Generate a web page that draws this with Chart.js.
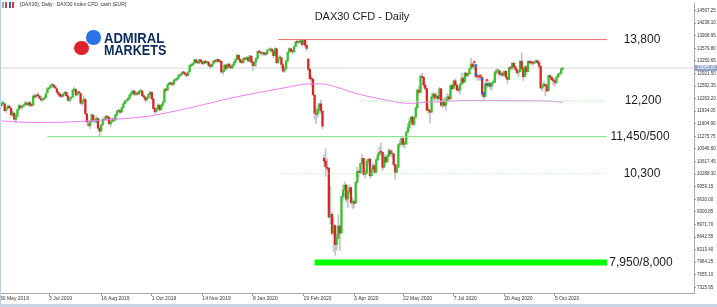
<!DOCTYPE html>
<html>
<head>
<meta charset="utf-8">
<script src="https://cdn.jsdelivr.net/npm/chart.js@4.4.1/dist/chart.umd.min.js"></script>
<style>
  html, body { margin: 0; padding: 0; background: #fff; }
  #wrap { position: relative; width: 717px; height: 307px; overflow: hidden; }
  #c { position: absolute; left: 0; top: 0; }
  #edgeL { position: absolute; left: 0; top: 0; width: 1px; height: 307px; background: #b9cde6; }
  #edgeB { position: absolute; left: 0; top: 304px; width: 717px; height: 3px; background: #c9d6e8; }
  #hdr { position: absolute; left: 20px; top: 1px; font: 5px "Liberation Sans", Arial, sans-serif; color: #333; white-space: pre; }
  .ico { position: absolute; top: 2px; width: 5px; height: 6px; }
  #logo .dot { position: absolute; width: 14.5px; height: 14.5px; border-radius: 50%; }
  #logo .txt { position: absolute; left: 104px; font: bold 15px "Liberation Sans", Arial, sans-serif; color: #0b2b5c; transform-origin: 0 0; letter-spacing: 0; line-height: 1; }
</style>
</head>
<body>
<div id="wrap">
  <canvas id="c" width="717" height="307"></canvas>
  <div id="edgeL"></div>
  <div id="edgeB"></div>
  <div class="ico" style="left:2px;background:linear-gradient(90deg,#9aa 0 40%,#fff 40% 60%,#c44 60%)"></div>
  <div class="ico" style="left:9px;background:linear-gradient(90deg,#2c5fd0 0 45%,#fff 45% 55%,#d33 55%)"></div>
  <div id="hdr">[DAX30], Daily:  DAX30 Index CFD, cash (EUR)</div>
  <div id="logo">
    <div class="dot" style="left:86px;top:30px;background:#2a74e8"></div>
    <div class="dot" style="left:74px;top:40.5px;background:#e0222d"></div>
    <div class="txt" style="top:29.5px;transform:scaleX(0.87)">ADMIRAL</div>
    <div class="txt" style="top:42px;transform:scaleX(0.84)">MARKETS</div>
  </div>
</div>
<script>
// ===============================
// DATOS: velas diarias DAX30 CFD (may 2019 - oct 2020)
// ===============================
const opens = [
  12080,12140,12130,11960,12020,12060,12010,11840,11880,11720,
  11800,11980,12070,12040,12070,12110,12140,12100,12160,12100,
  12100,12340,12320,12350,12330,12260,12230,12250,12290,12420,
  12520,12550,12620,12620,12560,12520,12430,12380,12340,12330,
  12390,12430,12340,12210,12270,12310,12480,12500,12370,12420,
  12400,12130,12190,12240,11860,11600,11560,11660,11830,11680,
  11660,11740,11490,11420,11580,11710,11720,11790,11770,11600,
  11660,11720,11710,11840,11940,11950,11920,12030,12130,12200,
  12230,12270,12360,12410,12460,12380,12390,12390,12460,12460,
  12340,12300,12240,12290,12380,12430,12260,12010,11930,12010,
  12090,11980,12090,12170,12500,12490,12630,12670,12650,12640,
  12750,12760,12800,12870,12890,12940,12940,12910,12870,12970,
  13130,13150,13190,13280,13230,13200,13280,13230,13180,13240,
  13210,13220,13140,13100,13170,13250,13230,13290,13250,13240,
  12960,12990,13140,13060,13170,13100,13070,13140,13220,13290,
  13400,13290,13220,13210,13320,13300,13340,13250,13380,13220,
  13130,13230,13320,13490,13480,13450,13460,13430,13430,13530,
  13550,13560,13510,13390,13570,13210,13330,13340,13150,12990,
  13050,13250,13480,13570,13510,13490,13630,13750,13740,13740,
  13780,13680,13790,13660,13300,13030,12790,12770,12360,11880,
  11860,11990,12130,11940,10700,10630,10470,10450,9170,9240,
  8740,8940,8440,8610,8930,8750,9700,9880,10000,9640,
  9820,9940,9550,9570,9530,10070,10360,10330,10570,10700,
  10280,10300,10630,10680,10250,10420,10510,10340,10660,10800,
  10870,10860,10470,10730,10610,10760,10900,10820,10820,10540,
  10340,10470,11060,11080,11220,11070,11080,11390,11510,11660,
  11780,11590,11770,12020,12490,12430,12850,12820,12620,12530,
  11970,11950,11910,12320,12380,12280,12330,12260,12520,12100,
  12180,12090,12230,12310,12260,12610,12530,12730,12620,12500,
  12490,12640,12800,12700,12930,12870,12920,13050,13170,13100,
  13100,12840,12840,12830,12820,12380,12320,12650,12600,12660,
  12590,12680,12690,12950,12990,12990,12900,12920,12880,12980,
  12830,12770,13070,13060,13190,13100,13030,12950,12970,13240,
  13060,12840,13100,12970,13240,13210,13200,13190,13220,13260,
  13210,13110,12540,12600,12640,12600,12470,12870,12820,12760,
  12730,12690,12830,12910,12930,13040
];
const highs = [
  12190,12200,12150,12040,12100,12090,12030,11950,11900,11830,
  12000,12110,12100,12100,12130,12200,12170,12190,12180,12120,
  12360,12390,12380,12420,12350,12310,12290,12310,12410,12560,
  12570,12640,12660,12640,12600,12540,12450,12410,12370,12410,
  12460,12450,12350,12300,12320,12510,12560,12520,12450,12460,
  12410,12220,12330,12260,11880,11680,11700,11870,11850,11730,
  11800,11760,11530,11600,11740,11790,11840,11830,11790,11680,
  11770,11740,11860,11960,11990,11970,12050,12160,12220,12250,
  12300,12380,12460,12490,12470,12420,12420,12480,12500,12470,
  12370,12320,12320,12400,12460,12450,12270,12020,12040,12130,
  12110,12110,12200,12530,12530,12650,12690,12700,12690,12770,
  12790,12820,12900,12920,12960,12980,12960,12930,12980,13150,
  13180,13200,13300,13290,13250,13300,13290,13250,13260,13270,
  13250,13230,13160,13180,13260,13280,13300,13300,13270,13250,
  13030,13150,13160,13180,13180,13130,13160,13250,13330,13430,
  13410,13300,13260,13340,13340,13370,13350,13400,13380,13220,
  13250,13330,13510,13530,13490,13490,13480,13460,13540,13570,
  13600,13570,13520,13600,13580,13340,13390,13350,13200,13100,
  13280,13490,13600,13580,13530,13640,13760,13770,13770,13800,
  13790,13810,13800,13680,13320,13080,12880,12780,12370,12000,
  12080,12140,12230,11950,10800,10960,10690,10450,9980,9300,
  9160,8960,8720,9230,8940,9710,10010,10090,10020,9860,
  10000,9950,9670,9600,10100,10470,10380,10580,10800,10710,
  10400,10680,10700,10690,10460,10570,10520,10710,10870,11000,
  11100,10870,10800,10780,10800,10960,10930,10920,10830,10560,
  10520,11080,11180,11280,11240,11140,11400,11610,11740,11800,
  11810,11790,12040,12500,12590,12890,12930,12830,12700,12540,
  12120,11960,12400,12430,12400,12420,12350,12560,12530,12250,
  12300,12270,12400,12370,12620,12640,12750,12780,12650,12580,
  12670,12940,12800,12950,12950,12940,13080,13320,13200,13150,
  13120,12890,12910,12900,12830,12410,12690,12660,12710,12690,
  12700,12760,12990,13050,13040,13000,12950,12960,12990,12990,
  12840,13100,13110,13200,13230,13120,13040,13000,13270,13460,
  13080,13120,13130,13260,13270,13240,13240,13260,13280,13270,
  13230,13120,12640,12710,12650,12620,12890,12880,12840,12800,
  12760,12840,12920,12940,13070,13090
];
const lows = [
  12060,12120,11930,11900,11990,11990,11820,11800,11700,11620,
  11780,11950,11990,11990,12040,12090,12070,12060,12070,12050,
  12080,12270,12280,12300,12250,12200,12190,12230,12270,12400,
  12490,12530,12590,12540,12510,12410,12330,12300,12290,12310,
  12370,12320,12200,12180,12240,12290,12460,12330,12340,12380,
  12120,12090,12150,11840,11620,11530,11480,11640,11660,11630,
  11620,11480,11270,11400,11560,11680,11690,11740,11580,11540,
  11640,11650,11690,11820,11900,11870,11900,12010,12110,12180,
  12200,12240,12340,12380,12350,12340,12350,12370,12430,12310,
  12260,12170,12200,12270,12360,12240,11980,11860,11900,11990,
  11940,11960,12070,12160,12440,12470,12610,12620,12600,12620,
  12710,12730,12780,12840,12870,12900,12870,12830,12850,12960,
  13100,13120,13170,13200,13170,13180,13200,13150,13160,13180,
  13180,13110,13050,13080,13150,13210,13210,13220,13200,12940,
  12900,12970,13030,13040,13080,13040,13050,13120,13200,13280,
  13270,13200,13180,13200,13280,13290,13230,13240,13190,13000,
  13110,13110,13310,13460,13410,13400,13390,13380,13420,13510,
  13490,13470,13330,13380,13180,13180,13290,13070,12950,12960,
  13040,13240,13460,13480,13430,13480,13620,13690,13700,13720,
  13630,13670,13610,13520,12990,12750,12600,12340,11720,11610,
  11780,11900,11880,11480,10500,10230,10380,9150,8990,8690,
  8270,8170,8300,8600,8290,8740,9600,9680,9560,9410,
  9780,9490,9390,9400,9520,10060,10200,10300,10560,10260,
  10180,10290,10550,10180,10230,10390,10300,10330,10640,10750,
  10810,10380,10450,10550,10600,10740,10770,10740,10500,10160,
  10320,10460,11010,11050,11000,10970,11060,11380,11460,11630,
  11570,11560,11760,12010,12380,12420,12800,12560,12480,11950,
  11870,11630,11900,12250,12200,12250,12160,12240,12060,12020,
  12060,11960,12200,12220,12250,12490,12520,12590,12460,12450,
  12390,12630,12650,12690,12830,12830,12900,13030,13040,13020,
  12810,12740,12750,12740,12330,12250,12300,12540,12570,12520,
  12480,12620,12680,12900,12920,12850,12860,12840,12860,12790,
  12660,12760,13010,13020,13070,12990,12900,12830,12960,13010,
  12740,12830,12890,12960,13180,13160,13120,13170,13190,13180,
  13080,12520,12460,12560,12340,12450,12460,12770,12730,12630,
  12600,12650,12800,12840,12900,13020
];
const closes = [
  12143,12169,11952,12011,12070,12027,11837,11902,11727,11792,
  11971,12090,12035,12045,12100,12155,12116,12169,12096,12086,
  12331,12309,12355,12340,12274,12228,12245,12271,12399,12521,
  12549,12616,12629,12568,12543,12437,12373,12332,12323,12387,
  12430,12342,12227,12260,12289,12490,12522,12362,12419,12418,
  12147,12189,12253,11872,11658,11567,11650,11845,11694,11680,
  11750,11493,11412,11563,11715,11712,11802,11776,11612,11658,
  11731,11701,11838,11939,11953,11911,12025,12126,12192,12226,
  12268,12360,12410,12469,12381,12390,12389,12457,12468,12342,
  12307,12234,12288,12381,12428,12263,12010,11925,12013,12097,
  11970,12094,12164,12511,12486,12629,12670,12654,12634,12748,
  12754,12798,12872,12895,12941,12939,12910,12867,12961,13136,
  13148,13180,13289,13228,13198,13283,13230,13180,13242,13207,
  13221,13137,13105,13164,13247,13232,13287,13245,13236,12965,
  12990,13140,13055,13167,13105,13071,13141,13221,13283,13407,
  13288,13222,13212,13319,13300,13337,13249,13386,13219,13127,
  13227,13320,13495,13483,13452,13456,13432,13429,13526,13549,
  13555,13515,13388,13577,13205,13324,13345,13158,12982,13046,
  13250,13479,13575,13514,13494,13628,13750,13745,13745,13784,
  13682,13790,13665,13579,13035,12790,12775,12367,11890,11857,
  11985,12128,11945,11542,10625,10475,10439,9161,9232,8742,
  8939,8442,8610,8929,8741,9700,9874,10000,9633,9816,
  9936,9544,9571,9525,10075,10357,10332,10565,10697,10280,
  10301,10626,10676,10250,10415,10514,10337,10660,10796,10862,
  10861,10467,10730,10606,10759,10904,10824,10820,10542,10337,
  10465,11058,11075,11223,11066,11074,11391,11505,11657,11781,
  11587,11770,12021,12487,12431,12848,12820,12615,12530,11970,
  11949,11911,12315,12382,12281,12331,12262,12524,12093,12177,
  12089,12232,12311,12260,12608,12528,12733,12616,12495,12489,
  12634,12800,12697,12931,12874,12920,13046,13171,13104,13103,
  12838,12838,12835,12822,12379,12313,12647,12601,12660,12591,
  12674,12687,12947,12993,12994,12901,12920,12881,12977,12830,
  12765,13067,13062,13190,13096,13033,12945,12974,13243,13057,
  12842,13100,12968,13237,13209,13202,13194,13218,13255,13208,
  13116,12542,12595,12643,12606,12469,12871,12825,12761,12731,
  12689,12828,12906,12928,13042,13065
];
const lastPrice = 13065;

const maIdx = [0, 20, 41, 62, 94, 110, 126, 142, 157, 178, 195, 202, 210, 221, 231, 242, 252, 259, 269, 284, 297, 326, 347, 355];
const maVal = [11680, 11640, 11650, 11700, 11810, 11940, 12090, 12250, 12380, 12540, 12650, 12650, 12590, 12440, 12330, 12240, 12160, 12140, 12170, 12200, 12220, 12210, 12200, 12165];

// marcas de operaciones (rojo = venta, azul = compra)
const tradeIdx  = [299, 300, 300, 303, 304, 307, 307, 305];
const tradeVal  = [13222, 13136, 12902, 12850, 12772, 12746, 12642, 12407];
const tradeSide = ["s", "b", "b", "s", "b", "s", "b", "b"];

// niveles horizontales
const levelValues = [13810, 12200, 11270, 10300, 7975];
const levelFrom   = [175, 227, 29, 176, 198];
const levelTo     = [383, 382, 383, 383, 383];
const levelLabels = ["13,800", "12,200", "11,450/500", "10,300", "7,950/8,000"];

// ejes
const xTickIdx    = [-1, 30, 63, 95, 127, 159, 191, 223, 254, 286, 318, 350];
const xTickLabels = ["30 May 2019", "3 Jul 2019", "16 Aug 2019", "1 Oct 2019", "14 Nov 2019", "8 Jan 2020",
                     "19 Feb 2020", "3 Apr 2020", "22 May 2020", "7 Jul 2020", "20 Aug 2020", "5 Oct 2020"];
const yTicks = [14567.25, 14238.10, 13908.95, 13579.80, 13250.65, 12921.50, 12592.35, 12263.20, 11934.05,
                11604.90, 11275.75, 10946.60, 10617.45, 10288.30, 9959.15, 9630.00, 9300.85, 8971.70,
                8642.55, 8313.40, 7984.25, 7655.10, 7325.95];
const title = "DAX30 CFD - Daily";

// ===============================
// COLORES Y ESTILOS
// ===============================
const verde = "#36c02c";
const rojo = "#d42626";
const mecha = "#c2c2c2";
const estiloNivel = [
  { color: "#f56b6b", width: 1, dash: [] },
  { color: "#a4eea4", width: 1, dash: [2, 2] },
  { color: "#7be27b", width: 1, dash: [] },
  { color: "#a4eea4", width: 1, dash: [1, 2] },
  { color: "#00ff00", width: 6, dash: [] }
];
const labelX = [642, 643, 640, 642, 641];
const FONT = '"Liberation Sans", Arial, sans-serif';

const cuerpos = closes.map((c, i) => ({ x: i, y: [opens[i], c] }));
const mechas = closes.map((c, i) => ({ x: i, y: [lows[i], highs[i]] }));

const datasets = [];
levelValues.forEach((v, i) => {
  datasets.push({
    type: "line",
    data: [{ x: levelFrom[i], y: v }, { x: levelTo[i], y: v }],
    borderColor: estiloNivel[i].color,
    borderWidth: estiloNivel[i].width,
    borderDash: estiloNivel[i].dash,
    pointRadius: 0,
    order: -2
  });
});
datasets.push({
  type: "scatter",
  data: tradeIdx.map((x, i) => ({ x, y: tradeVal[i] })),
  backgroundColor: tradeSide.map(s => s === "s" ? "#ff4a2a" : "#2f6fe0"),
  borderWidth: 0,
  pointRadius: 1.4,
  order: -3
});
datasets.push({
  type: "line",
  data: maIdx.map((x, i) => ({ x, y: maVal[i] })),
  borderColor: "#f07cf0",
  borderWidth: 1,
  pointRadius: 0,
  cubicInterpolationMode: "monotone",
  order: -1
});
datasets.push({
  type: "bar",
  data: cuerpos,
  backgroundColor: closes.map((c, i) => c >= opens[i] ? verde : rojo),
  barThickness: 1.6,
  minBarLength: 1,
  grouped: false,
  order: 1
});
datasets.push({
  type: "bar",
  data: mechas,
  backgroundColor: mecha,
  barThickness: 1,
  grouped: false,
  order: 2
});
datasets.push({
  type: "line",
  data: [{ x: -1, y: lastPrice }, { x: 438, y: lastPrice }],
  borderColor: "#d9d9d9",
  borderWidth: 1,
  pointRadius: 0,
  order: 3
});

const textos = {
  id: "textos",
  afterDraw(chart) {
    const { ctx, chartArea, scales: { y } } = chart;
    ctx.save();
    ctx.fillStyle = "#1c1c1c";
    ctx.textAlign = "center";
    ctx.textBaseline = "middle";
    ctx.font = "12px " + FONT;
    levelLabels.forEach((t, i) => ctx.fillText(t, chartArea.left + labelX[i], y.getPixelForValue(levelValues[i])));
    ctx.font = "11px " + FONT;
    ctx.fillText(title, 362, 17);
    const py = y.getPixelForValue(lastPrice);
    ctx.fillStyle = "#93a5c6";
    ctx.fillRect(chartArea.right + 1, py - 3, 22, 6);
    ctx.fillStyle = "#ffffff";
    ctx.font = "4.5px " + FONT;
    ctx.textAlign = "left";
    ctx.fillText(lastPrice.toFixed(2), chartArea.right + 3, py);
    ctx.restore();
  }
};

new Chart(document.getElementById("c"), {
  type: "bar",
  data: { datasets },
  plugins: [textos],
  options: {
    responsive: false,
    animation: false,
    devicePixelRatio: 1,
    layout: { autoPadding: false, padding: { top: 2, left: 0, right: 0, bottom: 0 } },
    plugins: { legend: { display: false }, tooltip: { enabled: false } },
    scales: {
      x: {
        type: "linear",
        min: -1,
        max: 438,
        offset: false,
        afterBuildTicks: s => { s.ticks = xTickIdx.map(v => ({ value: v })); },
        afterFit: s => { s.height = 14; },
        grid: { drawOnChartArea: false, tickLength: 3, color: "#9a9a9a", offset: false },
        border: { color: "#a8a8a8" },
        ticks: {
          autoSkip: false,
          maxRotation: 0,
          align: "start",
          padding: 0,
          color: "#333",
          font: { size: 5, family: FONT },
          callback: v => xTickLabels[xTickIdx.indexOf(v)] ?? ""
        }
      },
      y: {
        type: "linear",
        position: "right",
        min: 7178,
        max: 14749,
        afterBuildTicks: s => { s.ticks = yTicks.map(v => ({ value: v })); },
        afterFit: s => { s.width = 23; },
        grid: { drawOnChartArea: false, tickLength: 2, color: "#9a9a9a" },
        border: { color: "#a8a8a8" },
        ticks: {
          autoSkip: false,
          padding: 1,
          color: "#333",
          font: { size: 4.5, family: FONT },
          callback: v => Number(v).toFixed(2)
        }
      }
    }
  }
});
</script>
</body>
</html>
